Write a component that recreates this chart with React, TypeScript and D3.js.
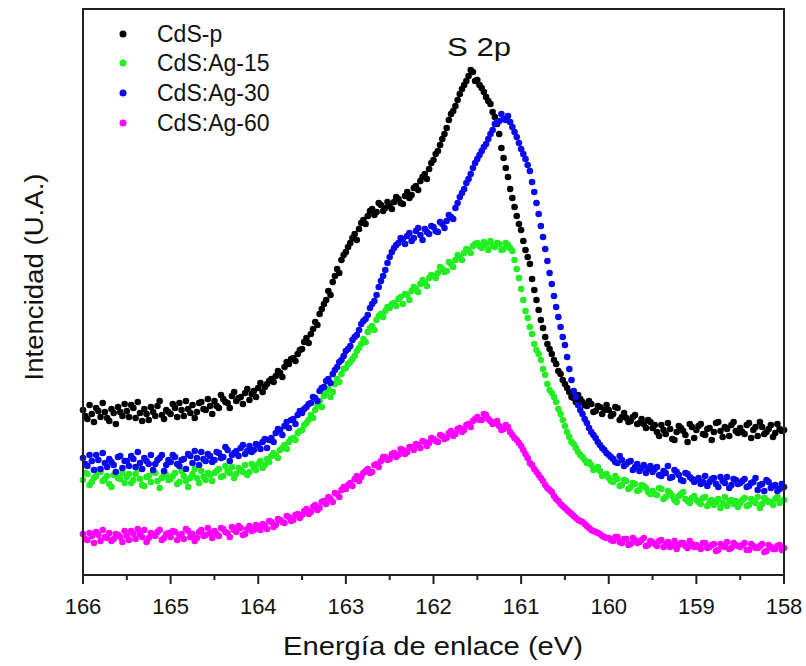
import React from "react";
import * as d3 from "d3";

// Binding energy grid (eV): main scan 166.00 -> 158.00 every 0.05 eV,
// interleaved scan 165.975 -> 158.025 every 0.05 eV
const energyStart = 166;
const energyStep = 0.05;
const halfOffset = 0.025;

const xTicksMajor = [166, 165, 164, 163, 162, 161, 160, 159, 158];
const xTicksMinor = [165.5, 164.5, 163.5, 162.5, 161.5, 160.5, 159.5, 158.5];

const seriesNames = ["CdS-p", "CdS:Ag-15", "CdS:Ag-30", "CdS:Ag-60"];
const seriesColors = ["#000000", "#22ee22", "#0a0aee", "#ff00ff"];

// Intensities (arbitrary units), main grid
const cdsP = [
  190, 181, 186, 192, 183, 188, 179, 187, 193, 184,
  189, 195, 182, 187, 191, 180, 188, 194, 185, 190,
  186, 192, 197, 184, 191, 195, 188, 198, 190, 194,
  199, 192, 201, 197, 204, 199, 203, 207, 200, 209,
  212, 208, 216, 221, 224, 227, 233, 236, 242, 246,
  251, 262, 266, 278, 286, 296, 309, 318, 331, 340,
  348, 357, 366, 371, 380, 384, 391, 388, 395, 392,
  394, 398, 401, 396, 408, 405, 414, 419, 426, 431,
  440, 449, 461, 472, 486, 494, 506, 515, 524, 528,
  520, 512, 503, 496, 483, 466, 442, 423, 402, 384,
  370, 350, 336, 310, 290, 272, 256, 246, 236, 226,
  216, 208, 202, 205, 198, 194, 196, 189, 193, 190,
  190, 186, 192, 183, 182, 179, 185, 177, 176, 180,
  172, 168, 175, 166, 171, 160, 174, 169, 158, 173,
  170, 176, 165, 172, 168, 178, 163, 171, 175, 169,
  172, 166, 177, 170, 164, 173, 168, 175, 167, 171,
  170,
];
const cdsPHalf = [
  184, 195, 178, 189, 197, 182, 191, 176, 188, 196,
  183, 192, 198, 179, 186, 193, 184, 199, 181, 188,
  196, 183, 190, 199, 187, 182, 197, 191, 201, 186,
  194, 205, 198, 192, 208, 202, 196, 211, 206, 203,
  217, 213, 219, 218, 229, 223, 238, 241, 239, 250,
  258, 257, 271, 275, 291, 300, 305, 324, 327, 345,
  353, 362, 360, 377, 376, 389, 385, 397, 389, 398,
  391, 403, 397, 404, 402, 412, 410, 423, 421, 437,
  446, 455, 466, 480, 489, 500, 511, 519, 530, 519,
  515, 508, 499, 488, 476, 452, 432, 411, 393, 376,
  359, 343, 321, 300, 280, 263, 251, 240, 229, 220,
  212, 203, 198, 201, 195, 199, 188, 194, 186, 195,
  184, 193, 180, 187, 178, 183, 176, 181, 172, 178,
  175, 164, 170, 177, 161, 168, 172, 165, 176, 162,
  174, 166, 171, 160, 177, 169, 173, 164, 178, 167,
  168, 175, 162, 173, 178, 166, 171, 163, 176, 169,
];

const cdsAg15 = [
  120, 126, 118, 124, 128, 121, 116, 125, 122, 127,
  123, 117, 126, 121, 114, 124, 128, 119, 122, 125,
  121, 127, 118, 124, 113, 126, 122, 129, 120, 125,
  127, 131, 124, 129, 133, 126, 130, 135, 128, 133,
  136, 132, 141, 144, 145, 150, 155, 158, 162, 167,
  170, 177, 185, 190, 199, 204, 211, 208, 221, 226,
  232, 238, 244, 252, 261, 268, 274, 280, 286, 289,
  292, 297, 301, 296, 305, 309, 311, 316, 317, 322,
  324, 327, 331, 329, 336, 340, 343, 347, 350, 354,
  357, 352, 355, 359, 353, 356, 351, 355, 349, 331,
  311, 289, 273, 256, 246, 231, 216, 207, 198, 186,
  174, 163, 156, 148, 143, 137, 135, 131, 129, 125,
  122, 118, 121, 115, 119, 113, 116, 110, 114, 108,
  109, 105, 111, 103, 107, 100, 104, 108, 99, 102,
  100, 96, 103, 98, 95, 101, 97, 94, 100, 99,
  97, 102, 95, 99, 103, 96, 100, 98, 101, 97,
  100,
];
const cdsAg15Half = [
  127, 115, 122, 130, 119, 124, 113, 128, 121, 117,
  126, 120, 131, 115, 123, 118, 127, 112, 125, 120,
  124, 116, 129, 119, 122, 131, 117, 123, 127, 119,
  129, 123, 134, 127, 122, 132, 128, 125, 136, 130,
  139, 135, 138, 147, 142, 152, 151, 161, 160, 169,
  175, 180, 182, 195, 193, 207, 203, 216, 218, 231,
  236, 241, 249, 256, 258, 272, 270, 284, 283, 293,
  296, 294, 303, 306, 300, 313, 308, 320, 314, 325,
  322, 333, 328, 338, 333, 345, 340, 351, 347, 356,
  354, 358, 350, 354, 357, 350, 357, 352, 340, 322,
  300, 282, 266, 250, 240, 225, 210, 203, 191, 180,
  168, 158, 152, 145, 140, 138, 130, 133, 124, 126,
  119, 124, 114, 120, 111, 117, 109, 115, 112, 106,
  106, 112, 101, 109, 104, 98, 106, 101, 97, 104,
  98, 102, 94, 100, 97, 92, 103, 99, 96, 93,
  100, 94, 101, 97, 92, 102, 98, 95, 103, 99,
];

const cdsAg30 = [
  142, 134, 139, 145, 131, 137, 141, 135, 143, 132,
  139, 144, 133, 137, 142, 136, 130, 140, 145, 135,
  138, 143, 134, 141, 146, 137, 142, 148, 139, 144,
  140, 147, 143, 150, 145, 149, 152, 146, 154, 150,
  155, 158, 152, 162, 167, 170, 174, 172, 181, 185,
  187, 193, 197, 202, 209, 213, 221, 226, 233, 240,
  249, 254, 263, 270, 279, 285, 296, 305, 319, 330,
  343, 352, 357, 361, 364, 359, 369, 365, 371, 366,
  373, 368, 376, 379, 383, 392, 403, 411, 421, 432,
  441, 449, 456, 466, 476, 479, 481, 484, 473, 463,
  451, 441, 429, 408, 386, 363, 339, 316, 293, 273,
  255, 231, 209, 195, 186, 177, 168, 162, 155, 150,
  145, 141, 137, 140, 136, 139, 133, 129, 135, 131,
  128, 133, 124, 127, 122, 130, 125, 119, 126, 121,
  120, 116, 124, 118, 122, 113, 119, 123, 115, 120,
  117, 121, 114, 118, 110, 116, 120, 112, 115, 111,
  113,
];
const cdsAg30Half = [
  136, 145, 130, 140, 147, 133, 138, 128, 144, 139,
  134, 141, 148, 131, 139, 145, 136, 142, 129, 140,
  145, 136, 140, 131, 144, 149, 135, 141, 146, 138,
  148, 142, 153, 139, 147, 144, 155, 149, 148, 156,
  151, 161, 160, 158, 171, 165, 178, 180, 176, 189,
  191, 196, 203, 199, 212, 219, 217, 230, 238, 244,
  251, 260, 265, 276, 281, 292, 299, 313, 324, 337,
  348, 355, 362, 356, 367, 362, 372, 360, 368, 374,
  369, 378, 372, 385, 381, 397, 407, 417, 426, 437,
  445, 453, 461, 470, 478, 486, 480, 478, 468, 457,
  446, 435, 418, 397, 374, 351, 327, 304, 283, 263,
  243, 220, 203, 190, 181, 172, 165, 158, 152, 147,
  143, 138, 144, 134, 138, 130, 136, 132, 127, 134,
  131, 125, 129, 134, 123, 128, 120, 127, 123, 118,
  122, 118, 114, 121, 116, 123, 117, 112, 121, 116,
  119, 113, 117, 122, 115, 109, 118, 114, 109, 116,
];

const cdsAg60 = [
  66, 60, 64, 68, 59, 63, 67, 61, 65, 58,
  64, 69, 61, 66, 70, 62, 65, 68, 60, 66,
  63, 68, 65, 61, 69, 66, 62, 70, 65, 67,
  69, 64, 71, 67, 73, 68, 72, 66, 74, 70,
  73, 76, 71, 78, 75, 80, 77, 83, 80, 86,
  85, 91, 88, 95, 92, 99, 103, 98, 106, 110,
  111, 117, 121, 119, 127, 131, 128, 136, 139, 143,
  141, 147, 145, 150, 148, 153, 156, 152, 158, 157,
  161, 158, 164, 162, 169, 166, 172, 170, 176, 179,
  183, 180, 185, 179, 177, 174, 171, 173, 165, 160,
  154, 146, 137, 131, 125, 119, 112, 108, 101, 96,
  92, 88, 84, 80, 78, 74, 70, 68, 66, 63,
  62, 59, 63, 57, 61, 56, 60, 58, 62, 55,
  58, 54, 60, 56, 53, 59, 55, 57, 52, 56,
  55, 51, 57, 53, 56, 50, 54, 58, 52, 55,
  53, 57, 50, 54, 52, 56, 49, 53, 51, 55,
  52,
];
const cdsAg60Half = [
  61, 67, 57, 65, 70, 62, 59, 66, 63, 69,
  60, 66, 71, 63, 58, 67, 64, 70, 62, 67,
  69, 60, 66, 71, 63, 59, 68, 64, 72, 62,
  66, 72, 68, 63, 70, 74, 65, 71, 69, 75,
  70, 74, 79, 73, 81, 78, 84, 79, 85, 82,
  89, 86, 93, 90, 98, 96, 101, 107, 103, 113,
  115, 114, 124, 123, 129, 127, 135, 133, 143, 140,
  146, 143, 151, 146, 153, 150, 155, 159, 154, 162,
  159, 165, 161, 167, 164, 171, 168, 175, 173, 181,
  180, 186, 181, 176, 179, 170, 175, 168, 162, 157,
  150, 142, 135, 128, 122, 115, 110, 104, 99, 94,
  90, 86, 82, 79, 76, 72, 69, 67, 64, 62,
  60, 63, 58, 61, 55, 62, 57, 60, 54, 59,
  56, 59, 53, 58, 55, 51, 57, 54, 59, 53,
  53, 57, 52, 55, 49, 56, 53, 51, 57, 54,
  55, 50, 56, 52, 54, 48, 55, 51, 54, 50,
];

const seriesMain = [cdsP, cdsAg15, cdsAg30, cdsAg60];
const seriesHalf = [cdsPHalf, cdsAg15Half, cdsAg30Half, cdsAg60Half];
const drawOrder = [0, 1, 2, 3];

const W = 806;
const H = 666;
const margin = { left: 83, right: 22, top: 9, bottom: 91 };
const FONT = "'Liberation Sans', Arial, Helvetica, sans-serif";

export default function App() {
  const x = d3
    .scaleLinear()
    .domain([166, 158])
    .range([margin.left, W - margin.right]);
  const y = d3
    .scaleLinear()
    .domain([25, 591])
    .range([H - margin.bottom, margin.top]);

  const x0 = margin.left;
  const x1 = W - margin.right;
  const y0 = H - margin.bottom;
  const y1 = margin.top;

  const legendY = [34, 63, 93, 123];

  const points = (si: number) => {
    const pts: { e: number; v: number }[] = [];
    seriesMain[si].forEach((v, i) => {
      pts.push({ e: energyStart - i * energyStep, v });
      const h = seriesHalf[si][i];
      if (h !== undefined)
        pts.push({ e: energyStart - halfOffset - i * energyStep, v: h });
    });
    return pts;
  };

  return (
    <svg
      width={W}
      height={H}
      style={{ position: "absolute", left: 0, top: 0, background: "#fff" }}
      fontFamily={FONT}
    >
      <rect x={0} y={0} width={W} height={H} fill="#fff" />
      {drawOrder.map((si) => (
        <g key={si} fill={seriesColors[si]}>
          {points(si).map((p, i) => (
            <circle key={i} cx={x(p.e)} cy={y(p.v)} r={3.3} />
          ))}
        </g>
      ))}
      <rect
        x={x0}
        y={y1}
        width={x1 - x0}
        height={y0 - y1}
        fill="none"
        stroke="#222"
        strokeWidth={2}
      />
      {xTicksMajor.map((t) => (
        <g key={"M" + t}>
          <line x1={x(t)} x2={x(t)} y1={y0} y2={y0 + 9} stroke="#222" strokeWidth={2} />
          <text x={x(t)} y={y0 + 39} textAnchor="middle" fontSize={22} fill="#111">
            {t}
          </text>
        </g>
      ))}
      {xTicksMinor.map((t) => (
        <line key={"m" + t} x1={x(t)} x2={x(t)} y1={y0} y2={y0 + 5} stroke="#222" strokeWidth={2} />
      ))}
      <text
        x={433}
        y={655}
        textAnchor="middle"
        fontSize={25}
        textLength={300}
        lengthAdjust="spacingAndGlyphs"
        fill="#111"
      >
        Energía de enlace (eV)
      </text>
      <text
        transform={`translate(${43},${277}) rotate(-90)`}
        textAnchor="middle"
        fontSize={25}
        textLength={207}
        lengthAdjust="spacingAndGlyphs"
        fill="#111"
      >
        Intencidad (U.A.)
      </text>
      <text
        x={479}
        y={56}
        textAnchor="middle"
        fontSize={25}
        textLength={64}
        lengthAdjust="spacingAndGlyphs"
        fill="#111"
      >
        S 2p
      </text>
      {seriesNames.map((n, i) => (
        <g key={n}>
          <circle cx={123} cy={legendY[i]} r={3.5} fill={seriesColors[i]} />
          <text x={157} y={legendY[i] + 8} fontSize={23} fill="#111">
            {n}
          </text>
        </g>
      ))}
    </svg>
  );
}
